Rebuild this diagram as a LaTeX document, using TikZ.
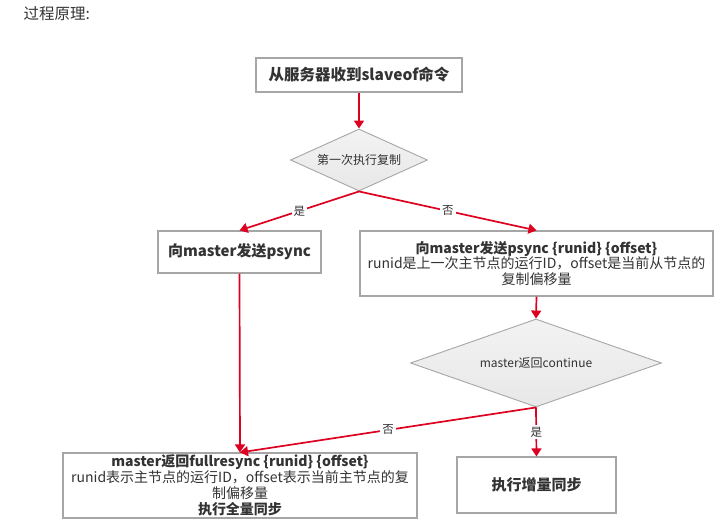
\documentclass[tikz,border=0pt]{standalone}
\usepackage{fontspec}
\setmainfont{Noto Sans CJK SC}
\usetikzlibrary{shapes.geometric,arrows.meta}
\definecolor{linered}{RGB}{222,0,32}
\definecolor{boxgray}{RGB}{166,166,166}
\definecolor{txt}{RGB}{51,51,51}
\definecolor{dfill}{RGB}{232,232,232}
\tikzset{
  box/.style={draw=boxgray,line width=1.1pt,fill=white,rectangle,inner sep=0pt,text=txt,align=center},
  decision/.style={draw=boxgray,line width=0.9pt,top color=dfill!55,bottom color=dfill,diamond,inner sep=0pt,text=txt,font=\fontsize{12}{14}\selectfont},
  flow/.style={draw=linered,line width=1.7pt,-{Triangle[length=8pt,width=10pt]}},
  lbl/.style={fill=white,text=txt,font=\fontsize{11.5}{13}\selectfont,inner sep=2pt}
}
\begin{document}
\begin{tikzpicture}[x=1pt,y=-1pt]
\useasboundingbox (0,0) rectangle (718,532);
\node[anchor=west,text=txt,font=\fontsize{15.5}{18}\selectfont] (title) at (20,14) {过程原理:};
\node[box,minimum width=206pt,minimum height=34pt,font=\fontsize{15.5}{18}\selectfont\bfseries] (b1) at (359,75) {从服务器收到slaveof命令};
\node[decision,minimum width=137pt,minimum height=62pt,shape aspect=2.2] (d1) at (359,160) {第一次执行复制};
\node[box,minimum width=163pt,minimum height=42pt,font=\fontsize{15}{18}\selectfont\bfseries] (b2) at (239.5,252) {向master发送psync};
\node[box,minimum width=353pt,minimum height=65pt,font=\fontsize{14}{15.7}\selectfont] (b3) at (536.5,263.5) {\textbf{向master发送psync \{runid\} \{offset\}}\\runid是上一次主节点的运行ID，offset是当前从节点的\\复制偏移量};
\node[decision,minimum width=251pt,minimum height=88pt,shape aspect=2.85] (d2) at (536,363) {master返回continue};
\node[box,minimum width=354pt,minimum height=65pt,font=\fontsize{14}{16}\selectfont] (b4) at (240,485.5) {\textbf{master返回fullresync \{runid\} \{offset\}}\\runid表示主节点的运行ID，offset表示当前主节点的复\\制偏移量\\\textbf{执行全量同步}};
\node[box,minimum width=159pt,minimum height=56pt,font=\fontsize{15}{18}\selectfont\bfseries] (b5) at (536.5,485) {执行增量同步};
\draw[flow] (b1.south) -- (d1.north);
\draw[flow] (d1.south) -- node[lbl] {是} (b2.north);
\draw[flow] (d1.south) -- node[lbl] {否} (b3.north);
\draw[flow] (b2.south) -- (b4.north);
\draw[flow] (b3.south) -- (d2.north);
\draw[flow] (d2.south) -- node[lbl] {否} (b4.north);
\draw[flow] (d2.south) -- node[lbl] {是} (b5.north);
\end{tikzpicture}
\end{document}
